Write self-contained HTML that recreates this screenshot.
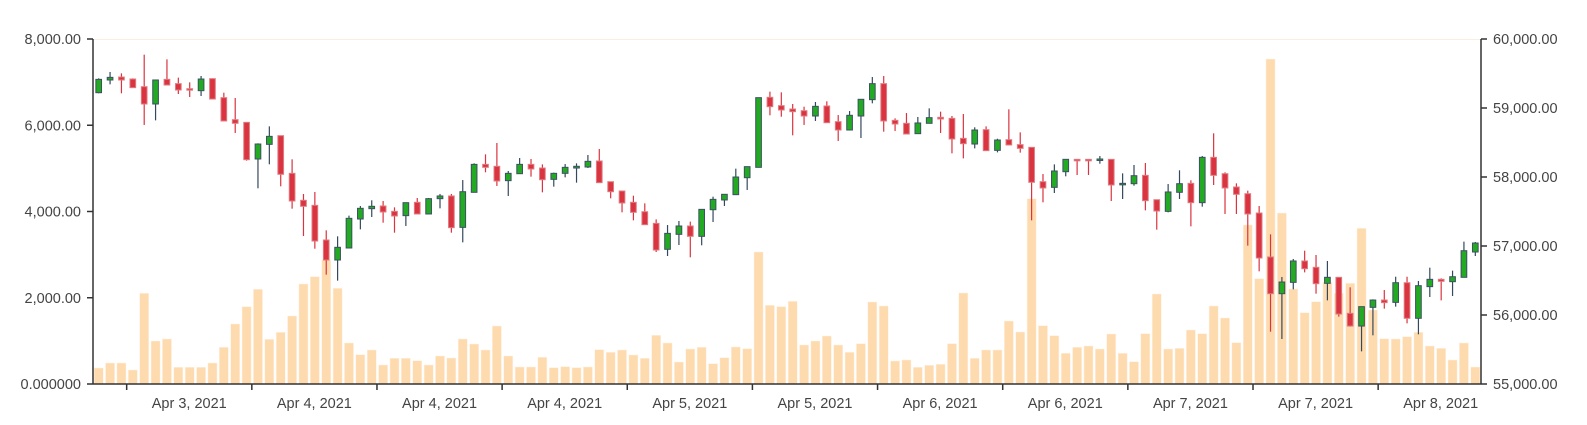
<!DOCTYPE html>
<html><head><meta charset="utf-8"><style>
html,body{margin:0;padding:0;background:#fff;}
svg{display:block;font-family:"Liberation Sans",Arial,sans-serif;}
</style></head><body>
<svg id="chart" width="1587" height="425" viewBox="0 0 1587 425" xmlns="http://www.w3.org/2000/svg"></svg>
<script>
const opens=[59222,59406,59449,59420,59309,59058,59415,59353,59280,59251,59425,59150,58831,58792,58261,58473,58599,58053,57662,57589,57087,56797,56971,57391,57541,57580,57502,57440,57633,57464,57686,57725,57270,57778,58183,58155,57947,58048,58183,58130,57966,58053,58130,58145,58232,57932,57797,57633,57497,57328,56952,57169,57290,57140,57526,57667,57744,57990,58140,59155,59034,58985,58961,58884,59029,58802,58681,58884,59121,59353,58821,58778,58628,58778,58865,58850,58560,58478,58686,58386,58541,58469,58430,57932,57850,58077,58256,58256,58246,58256,57889,57903,58024,57671,57502,57778,57908,57628,58285,58048,57855,57758,57478,56841,56309,56473,56783,56691,56459,56546,56024,55840,56111,56217,56183,56468,55952,56411,56517,56483,56546,56913];
const closes=[59415,59444,59406,59295,59058,59406,59333,59261,59261,59420,59130,58812,58778,58251,58478,58589,58039,57652,57575,57072,56797,56981,57401,57546,57575,57493,57435,57628,57464,57686,57725,57266,57787,58183,58140,57942,58053,58183,58116,57961,58053,58140,58155,58227,57918,57787,57623,57488,57309,56942,57183,57290,57140,57531,57676,57749,58000,58150,59150,59019,58971,58947,58884,59024,58787,58681,58894,59126,59353,58812,58768,58623,58783,58860,58841,58551,58483,58681,58382,58536,58464,58415,57923,57841,58087,58256,58241,58241,58261,57884,57908,58019,57657,57507,57783,57903,57628,58285,58024,57841,57749,57464,56826,56309,56478,56783,56671,56454,56546,56014,55840,56121,56217,56179,56468,55952,56425,56517,56488,56555,56932,57043];
const highs=[59430,59522,59502,59430,59773,59406,59705,59440,59372,59464,59430,59222,59145,58792,58488,58734,58599,58256,57754,57783,57227,57140,57440,57580,57662,57652,57560,57628,57696,57696,57754,57754,57956,58198,58328,58493,58087,58275,58261,58183,58063,58188,58198,58319,58406,57932,57797,57729,57618,57386,57304,57362,57353,57531,57715,57749,58121,58150,59150,59237,59227,59058,59019,59087,59097,58898,58956,59126,59449,59464,58850,58927,58870,58995,58947,58884,58913,58720,58734,58555,58981,58647,58430,58043,58183,58256,58256,58256,58304,58256,58053,58174,58203,57671,57898,58097,57952,58304,58633,58068,57908,57802,57580,57169,56551,56812,56932,56870,56783,56546,56401,56121,56227,56362,56555,56555,56493,56686,56531,56643,57063,57058];
const lows=[59213,59343,59213,59295,58754,58821,59333,59203,59159,59174,59130,58812,58638,58237,57836,58184,57865,57541,57145,56961,56585,56498,56971,57241,57420,57338,57193,57290,57464,57464,57546,57193,57053,57778,58068,57870,57725,58048,58005,57778,57860,57995,57918,58130,57918,57691,57488,57372,57309,56913,56855,57014,56836,57010,57348,57580,57744,57812,58140,58894,58874,58604,58754,58812,58787,58522,58681,58565,59068,58657,58667,58623,58628,58778,58638,58343,58270,58415,58382,58357,58464,58353,57372,57633,57768,58010,58029,58029,58193,57652,57681,57874,57517,57237,57488,57681,57285,57570,57884,57464,57464,57005,56633,55758,55652,56372,56618,56309,56212,55976,55831,55473,55705,56092,56121,55879,55720,56261,56212,56275,56546,56855];
const volumes=[372,487,487,325,2103,997,1044,387,387,387,487,851,1392,1794,2196,1036,1198,1577,2319,2489,2876,2219,951,681,789,441,596,596,541,441,650,603,1044,928,789,1345,650,395,395,619,380,403,380,395,797,735,789,673,596,1129,951,510,812,851,472,611,858,820,3061,1825,1794,1917,905,997,1114,905,735,936,1902,1809,534,557,387,434,457,936,2111,596,789,789,1461,1206,4298,1353,1121,712,851,882,812,1160,712,518,1167,2087,812,827,1253,1167,1809,1531,959,3687,2443,7536,3965,2203,1654,1910,2358,2103,2335,3610,1716,1051,1044,1098,1198,882,827,557,951,394];
const leftTicks=[0,2000,4000,6000,8000];
const leftTickLabels=["0.000000","2,000.00","4,000.00","6,000.00","8,000.00"];
const rightTicks=[55000,56000,57000,58000,59000,60000];
const rightTickLabels=["55,000.00","56,000.00","57,000.00","58,000.00","59,000.00","60,000.00"];
const dateLabels=["Apr 3, 2021","Apr 4, 2021","Apr 4, 2021","Apr 4, 2021","Apr 5, 2021","Apr 5, 2021","Apr 6, 2021","Apr 6, 2021","Apr 7, 2021","Apr 7, 2021","Apr 8, 2021"];

const NS="http://www.w3.org/2000/svg";
const svg=document.getElementById('chart');
const X0=93,X1=1481,Y0=39,Y1=384;
const band=(X1-X0)/opens.length;
function xc(i){return X0+band*(i+0.5);}
function yL(v){return Y1-(v-0)/(8000-0)*(Y1-Y0);}
function yR(v){return Y1-(v-55000)/(60000-55000)*(Y1-Y0);}
function mk(tag,attrs,parent){const e=document.createElementNS(NS,tag);for(const k in attrs)e.setAttribute(k,attrs[k]);(parent||svg).appendChild(e);return e;}

// top grid line
const grid=mk('line',{x1:X0,x2:X1,y1:Y0+0.5,y2:Y0+0.5,stroke:'#fbeee0','stroke-width':1});



// volume bars
const gVol=mk('g',{});


volumes.forEach((v,i)=>{
  const w=band*0.8;
  const r=mk('rect',{x:xc(i)-w/2,y:yL(v),width:w,height:Y1-yL(v),fill:'#fedbae',stroke:'#fff3e6','stroke-width':0.5},gVol);
  
  
});

// candles
const gC=mk('g',{});


opens.forEach((o,i)=>{
  const c=closes[i],up=c>=o;
  const g=mk('g',{},gC);
  
  
  const x=xc(i);
  const wick=up?'#34495e':'#d9343f';
  mk('line',{x1:x,x2:x,y1:yR(highs[i]),y2:yR(lows[i]),stroke:wick,'stroke-width':1.2},g);
  const top=yR(Math.max(o,c)),bot=yR(Math.min(o,c));
  const w=band*0.5;
  mk('rect',{x:x-w/2,y:top,width:w,height:Math.max(1.5,bot-top),fill:up?'#22aa22':'#d9343f',stroke:up?'#3d5063':'#e07b82','stroke-width':1},g);
});

// axes
const axL=mk('g',{});


mk('line',{x1:X0,x2:X0,y1:Y0,y2:Y1,stroke:'#333','stroke-width':1.5},axL);
leftTicks.forEach((v,i)=>{
  const y=yL(v);
  mk('line',{x1:X0-6,x2:X0,y1:y,y2:y,stroke:'#333','stroke-width':1.5},axL);
  const t=mk('text',{x:X0-12,y:y+5,'text-anchor':'end','font-size':14.5,fill:'#444'},axL);
  t.textContent=leftTickLabels[i];
  
  
});
const axR=mk('g',{});


mk('line',{x1:X1,x2:X1,y1:Y0,y2:Y1,stroke:'#333','stroke-width':1.5},axR);
rightTicks.forEach((v,i)=>{
  const y=yR(v);
  mk('line',{x1:X1,x2:X1+6,y1:y,y2:y,stroke:'#333','stroke-width':1.5},axR);
  const t=mk('text',{x:X1+12,y:y+5,'text-anchor':'start','font-size':14.5,fill:'#444'},axR);
  t.textContent=rightTickLabels[i];
  
  
});
const axB=mk('g',{});


mk('line',{x1:X0,x2:X1,y1:Y1,y2:Y1,stroke:'#333','stroke-width':1.5},axB);
dateLabels.forEach((lab,k)=>{
  const tx=X0+band*(2.96+11*k);
  mk('line',{x1:tx,x2:tx,y1:Y1,y2:Y1+6,stroke:'#333','stroke-width':1.5},axB);
  const t=mk('text',{x:tx+band*5.5,y:408,'text-anchor':'middle','font-size':14.5,fill:'#444'},axB);
  t.textContent=lab;
  
  
});
</script>
</body></html>
